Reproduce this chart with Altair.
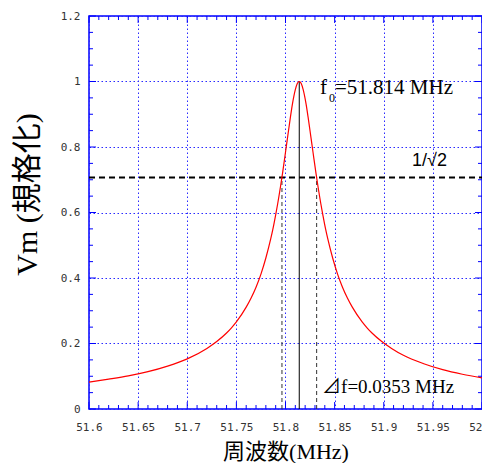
import altair as alt
import pandas as pd

# ---- data ----
freq = [51.60, 51.62, 51.64, 51.66, 51.68, 51.70, 51.72, 51.73, 51.74, 51.745,
        51.75, 51.76, 51.765, 51.77, 51.775, 51.78, 51.785, 51.787, 51.79, 51.792,
        51.795, 51.797, 51.80, 51.802, 51.805, 51.807, 51.81, 51.812, 51.814, 51.816,
        51.818, 51.821, 51.823, 51.826, 51.828, 51.831, 51.833, 51.836, 51.838, 51.841,
        51.843, 51.848, 51.853, 51.858, 51.863, 51.868, 51.878, 51.883, 51.888, 51.898,
        51.908, 51.92, 51.94, 51.96, 51.98, 52.00]
vm = [0.082, 0.091, 0.101, 0.114, 0.131, 0.153, 0.185, 0.206, 0.232, 0.248,
      0.266, 0.311, 0.339, 0.372, 0.412, 0.461, 0.520, 0.547, 0.593, 0.626,
      0.681, 0.720, 0.784, 0.827, 0.891, 0.930, 0.975, 0.994, 1.000, 0.994,
      0.975, 0.930, 0.891, 0.827, 0.784, 0.720, 0.681, 0.626, 0.593, 0.547,
      0.520, 0.461, 0.412, 0.372, 0.339, 0.311, 0.266, 0.248, 0.232, 0.206,
      0.185, 0.164, 0.139, 0.120, 0.106, 0.095]

f0 = [51.814]
f0_level = [1.0]
half_power_f = [51.7964, 51.8317]
half_level = [0.7071]
x_domain = [51.6, 52.0]
y_domain = [0.0, 1.2]

x_major = [51.6, 51.65, 51.7, 51.75, 51.8, 51.85, 51.9, 51.95, 52.0]
x_minor = [round(51.6 + 0.01 * i, 2) for i in range(41) if i % 5]
y_major = [0, 0.2, 0.4, 0.6, 0.8, 1, 1.2]
y_minor = [round(0.05 * i, 2) for i in range(25) if i % 4]

serif_texts = ["f", "0", "=51.814 MHz", "⊿f=0.0353 MHz"]
serif_x = [51.8351, 51.8443, 51.8504, 51.8372]
serif_y = [0.962, 0.937, 0.962, 0.049]
serif_size = [21, 12, 21, 19]
sans_texts = ["1/√2"]
sans_x = [51.9288]
sans_y = [0.742]

# ---- tables ----
curve_df = pd.DataFrame({"f": freq, "v": vm})
f0_df = pd.DataFrame({"f": f0, "v0": [0.0], "v1": f0_level})
hp_df = pd.DataFrame({"f": half_power_f, "v0": [0.0, 0.0], "v1": half_level * 2})
h_df = pd.DataFrame({"v": half_level, "x1": [x_domain[0]], "x2": [x_domain[1]]})
serif_df = pd.DataFrame({"t": serif_texts, "x": serif_x, "y": serif_y, "s": serif_size})
sans_df = pd.DataFrame({"t": sans_texts, "x": sans_x, "y": sans_y})

BLUE = "#0000ff"
GRID = "#2a2aff"
SERIF = 'Liberation Serif, "Noto Sans CJK JP"'
W = 393
H = 393
MAJOR = 7
MINOR = 4

xs = alt.Scale(domain=x_domain, nice=False, zero=False)
ys = alt.Scale(domain=y_domain, nice=False, zero=False)

# one shared axis definition per channel, used by every layer so they merge
XAX = alt.Axis(orient="bottom", values=x_major, ticks=False, domain=False,
               labelPadding=12, labelFlush=False, labelOverlap=False, format="~g",
               labelAlign={"condition": {"test": "datum.value >= 51.999", "value": "right"},
                           "value": "center"},
               labelFont="DejaVu Sans Mono", labelFontSize=11, labelColor="#333",
               grid=True, gridColor=GRID, gridDash=[1.5, 2.5], gridWidth=1,
               title="周波数(MHz)", titleFont=SERIF, titleFontSize=22,
               titleFontWeight="normal", titleColor="#000", titlePadding=9)
YAX = alt.Axis(orient="left", values=y_major, ticks=False, domain=False,
               labelPadding=9, labelFlush=False, labelOverlap=False, format="~g",
               labelFont="DejaVu Sans Mono", labelFontSize=11, labelColor="#333",
               grid=True, gridColor=GRID, gridDash=[1.5, 2.5], gridWidth=1,
               title="Vm (規格化)", titleFont=SERIF, titleFontSize=30,
               titleFontWeight="normal", titleColor="#000", titlePadding=18,
               titleY=178)


def X(field):
    return alt.X(field, scale=xs, axis=XAX)


def Y(field):
    return alt.Y(field, scale=ys, axis=YAX)


def tick_layer(values, channel, side, length):
    """Inward-pointing tick marks drawn as short rules at the tick values."""
    df = pd.DataFrame({"v": values})
    base = alt.Chart(df).mark_rule(color=BLUE, strokeWidth=1)
    if channel == "x":
        y0 = H if side == "bottom" else 0
        y1 = H - length if side == "bottom" else length
        return base.encode(x=X("v:Q"), y=alt.value(y0), y2=alt.value(y1))
    x0 = 0 if side == "left" else W
    x1 = length if side == "left" else W - length
    return base.encode(y=Y("v:Q"), x=alt.value(x0), x2=alt.value(x1))


curve = alt.Chart(curve_df).mark_line(color="#ff0000", strokeWidth=1.2,
                                      interpolate="monotone").encode(
    x=X("f:Q"), y=Y("v:Q"))

f0_rule = alt.Chart(f0_df).mark_rule(color="#000", strokeWidth=1).encode(
    x=X("f:Q"), y=Y("v0:Q"), y2="v1:Q")

hp_rules = alt.Chart(hp_df).mark_rule(color="#333", strokeWidth=1, strokeDash=[4, 3]).encode(
    x=X("f:Q"), y=Y("v0:Q"), y2="v1:Q")

h_rule = alt.Chart(h_df).mark_rule(color="#000", strokeWidth=2, strokeDash=[6, 4]).encode(
    y=Y("v:Q"), x=X("x1:Q"), x2="x2:Q")

serif_text = alt.Chart(serif_df).mark_text(align="left", baseline="alphabetic", font=SERIF,
                                           color="#000").encode(
    x=X("x:Q"), y=Y("y:Q"),
    size=alt.Size("s:Q", scale=None, legend=None),
    text="t:N",
)

sans_text = alt.Chart(sans_df).mark_text(align="left", baseline="alphabetic",
                                         font="Liberation Sans", fontSize=18,
                                         color="#000").encode(
    x=X("x:Q"), y=Y("y:Q"), text="t:N")

ticks = [
    tick_layer(x_major, "x", "bottom", MAJOR), tick_layer(x_minor, "x", "bottom", MINOR),
    tick_layer(x_major, "x", "top", MAJOR), tick_layer(x_minor, "x", "top", MINOR),
    tick_layer(y_major, "y", "left", MAJOR), tick_layer(y_minor, "y", "left", MINOR),
    tick_layer(y_major, "y", "right", MAJOR), tick_layer(y_minor, "y", "right", MINOR),
]

chart = alt.layer(*ticks, f0_rule, hp_rules, h_rule, curve, serif_text, sans_text).properties(
    width=W, height=H,
    autosize=alt.AutoSizeParams(type="none"),
    padding={"left": 81, "top": 8, "right": 0, "bottom": 54},
).configure_view(stroke=BLUE, strokeWidth=1.5)

chart.save("out.html", embed_options={"renderer": "svg", "actions": False})
